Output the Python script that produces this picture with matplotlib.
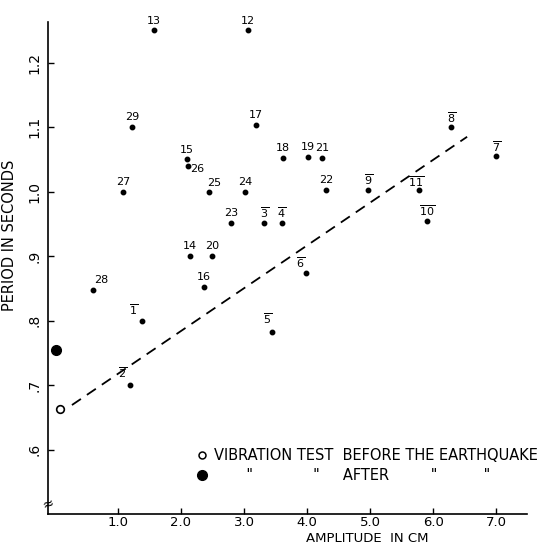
import matplotlib
matplotlib.use("Agg")
import matplotlib.pyplot as plt
from matplotlib.lines import Line2D

plt.rcParams["font.family"] = ["DejaVu Sans"]
plt.rcParams["mathtext.fontset"] = "dejavusans"

# test numbers, amplitude (cm) and period (s)
test_no = list(range(1, 30))
amplitude = [1.38, 1.19, 3.32, 3.60, 3.44, 3.98, 7.00, 6.29, 4.97, 5.90,
             5.78, 3.06, 1.57, 2.14, 2.10, 2.37, 3.19, 3.62, 4.02, 2.50,
             4.24, 4.30, 2.79, 3.02, 2.44, 2.11, 1.08, 0.60, 1.22]
period = [0.800, 0.700, 0.952, 0.952, 0.783, 0.874, 1.055, 1.100, 1.003, 0.955,
          1.003, 1.250, 1.250, 0.900, 1.050, 0.852, 1.103, 1.052, 1.054, 0.900,
          1.052, 1.003, 0.952, 1.000, 1.000, 1.040, 1.000, 0.848, 1.100]
overbar = [n <= 11 for n in test_no]

# vibration tests
vib_before = (0.08, 0.663)
vib_after = (0.02, 0.754)

# dashed trend line end points
trend_x = [0.27, 6.54]
trend_y = [0.669, 1.085]

xticks = [1, 2, 3, 4, 5, 6, 7]
xticklabels = ["1.0", "2.0", "3.0", "4.0", "5.0", "6.0", "7.0"]
yticks = [0.6, 0.7, 0.8, 0.9, 1.0, 1.1, 1.2]
yticklabels = [".6", ".7", ".8", ".9", "1.0", "1.1", "1.2"]

fig = plt.figure(figsize=(5.47, 5.47), dpi=100)
ax = fig.add_axes([48 / 547, 33 / 547, 479 / 547, 492 / 547])

ax.plot(trend_x, trend_y, color="black", linestyle=(0, (6, 4)), linewidth=1.3)
ax.plot(amplitude, period, "o", color="black", markersize=3.2, linestyle="none")
ax.plot(*vib_before, "o", markerfacecolor="white", markeredgecolor="black",
        markersize=5.5, markeredgewidth=1.2)
ax.plot(*vib_after, "o", color="black", markersize=7)

# label offsets (points); most labels sit right above the dot
offsets = {26: (7, -2), 28: (6, 7), 1: (-6, 8), 2: (-5, 9), 25: (4, 6),
           5: (-3, 9), 6: (-4, 7), 11: (-2, 6)}
for n, x, y, bar in zip(test_no, amplitude, period, overbar):
    txt = r"$\overline{\mathrm{%d}}$" % n if bar else str(n)
    dx, dy = offsets.get(n, (0, 7))
    ax.annotate(txt, (x, y), xytext=(dx, dy), textcoords="offset points",
                ha="center", va="center", fontsize=8)

ax.set_xlim(-0.11, 7.49)
ax.set_ylim(0.5, 1.263)
for s in ["top", "right"]:
    ax.spines[s].set_visible(False)
ax.spines["left"].set_linewidth(1.2)
ax.spines["bottom"].set_linewidth(1.2)

ax.set_xticks(xticks)
ax.set_xticklabels(xticklabels, fontsize=9.5)
ax.set_yticks(yticks)
ax.set_yticklabels(yticklabels, fontsize=10, rotation=90, va="center")
ax.tick_params(direction="in", length=4, width=1, pad=1.5)
ax.tick_params(axis="y", pad=5)

ax.set_xlabel("AMPLITUDE  IN CM", fontsize=9.5, labelpad=0)
ax.xaxis.set_label_coords(0.666, -0.036)
ax.set_ylabel("PERIOD IN SECONDS", fontsize=10.5)
ax.yaxis.set_label_coords(-0.065, 0.566)

# axis break mark
ax.text(0, 0.02, "≈", transform=ax.transAxes, ha="center", va="center",
        fontsize=10, rotation=20)

handles = [
    Line2D([], [], marker="o", linestyle="none", markerfacecolor="white",
           markeredgecolor="black", markersize=5, markeredgewidth=1.1),
    Line2D([], [], marker="o", linestyle="none", color="black", markersize=7),
]
labels = [
    "VIBRATION TEST  BEFORE THE EARTHQUAKE",
    '       "             "     AFTER         "          "',
]
ax.legend(handles, labels, loc="center left", bbox_to_anchor=(0.31, 0.099),
          frameon=False, fontsize=10.5, handlelength=0.8, handletextpad=0.4,
          borderpad=0, borderaxespad=0, labelspacing=0.35)

fig.savefig("out.png", dpi=100)
